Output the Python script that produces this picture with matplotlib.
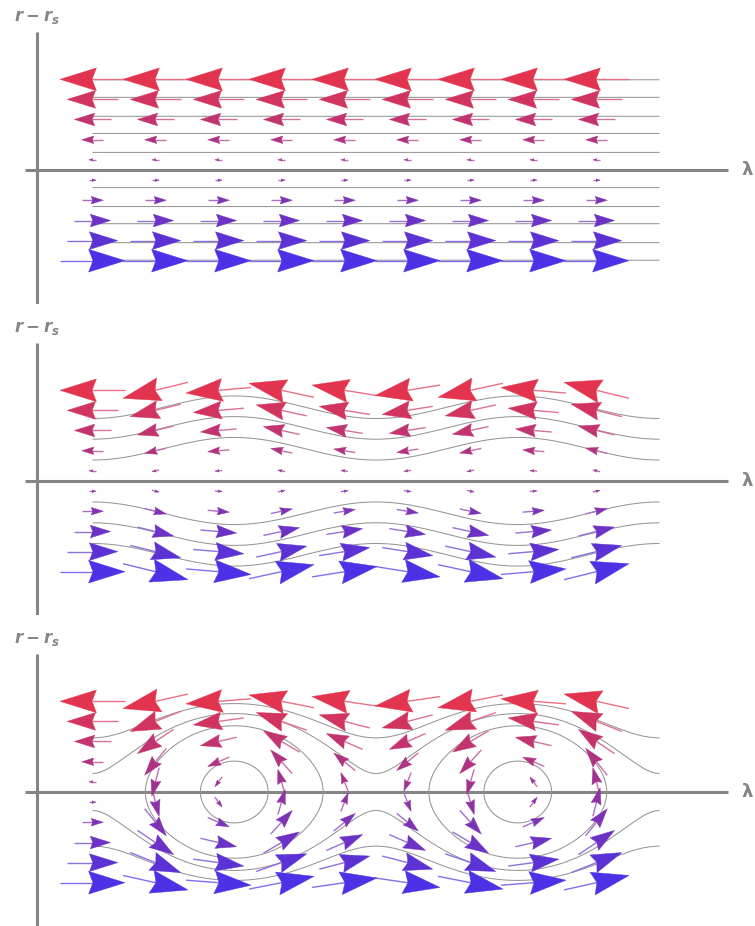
import numpy as np
import matplotlib
matplotlib.use("Agg")
import matplotlib.pyplot as plt
from matplotlib.collections import PolyCollection, LineCollection
from matplotlib.colors import LinearSegmentedColormap, Normalize

plt.rcParams['mathtext.fontset'] = 'custom'
plt.rcParams['mathtext.it'] = 'DejaVu Sans:italic:bold'
plt.rcParams['mathtext.rm'] = 'DejaVu Sans:bold'

# grid of arrows (lambda in rad, r - r_s)
lam_cols = [0.0, 1.396, 2.793, 4.189, 5.585, 6.981, 8.378, 9.774, 11.170]
r_rows = [2.01, 1.565, 1.12, 0.67, 0.225, -0.225, -0.67, -1.12, -1.565, -2.01]

# field parameters
eps_wave = 0.25     # panel 2: tilt of the shear flow
beta_eye = 0.9      # panel 3: strength of the cat's eye
r_eye = 2.86        # panel 3: radial decay of the perturbation

# streamline seed points (lambda, r) for each panel
seeds_flat = [(0.0, 0.39), (0.0, 0.81), (0.0, 1.19), (0.0, 1.61), (0.0, 2.0)]
seeds_wave = [(0.0, 0.465), (0.0, 0.927), (0.0, 1.385)]
seeds_eye = [(np.pi + 0.75, 0.0), (np.pi + 1.97, 0.0), (0.0, 0.41), (0.0, 1.20)]

panels = ["flat", "wave", "eye"]
panel_seeds = [seeds_flat, seeds_wave, seeds_eye]
axis_px = [170, 481, 792]

W, H = 755, 926
S = 45.12          # px per data unit
x0_px = 92.5       # px position of lambda = 0
above, below = 170, 134
arrow_scale = 0.716
gray = "#858585"

cmap = LinearSegmentedColormap.from_list("br", ["#4B32E6", "#E3344F"])
norm = Normalize(vmin=-2.01, vmax=2.01)


def field(kind, lam, r):
    u = -r
    if kind == "flat":
        v = 0.0 * r
    elif kind == "wave":
        v = -eps_wave * np.abs(r) * np.sin(lam)
    else:
        v = -beta_eye * np.sin(lam) * (1 - (r / r_eye) ** 2)
    return u, v


def stream(kind, lam, r):
    if kind == "flat":
        return np.abs(r) + 0.0 * lam
    if kind == "wave":
        return np.abs(r) + eps_wave * np.cos(lam)
    return -(r_eye ** 2 / 2) * np.log(1 - (r / r_eye) ** 2) + beta_eye * np.cos(lam)


fig = plt.figure(figsize=(W / 100, H / 100), dpi=100)

for kind, seeds, ay in zip(panels, panel_seeds, axis_px):
    ax = fig.add_axes([0, 1 - (ay + below) / H, 1, (above + below) / H])
    ax.set_xlim(-x0_px / S, (W - x0_px) / S)
    ax.set_ylim(-below / S, above / S)
    ax.axis("off")

    # axes lines
    ax.plot([-1.23, -1.23], [-3.03, 3.05], color=gray, lw=2.2, zorder=1,
            solid_capstyle="butt")
    ax.plot([-1.50, 14.09], [0, 0], color=gray, lw=2.2, zorder=1,
            solid_capstyle="butt")
    ax.text(-1.23, 149 / S, r"$r - r_s$", ha="center", va="baseline",
            fontsize=12, color=gray)
    ax.text(14.51, 0, "λ", ha="center", va="center", fontsize=13,
            fontweight="bold", color=gray)

    # streamlines
    lam_g = np.linspace(0, 4 * np.pi, 700)
    r_g = np.linspace(-2.6, 2.6, 600)
    LG, RG = np.meshgrid(lam_g, r_g)
    levels = sorted(set(round(float(stream(kind, l, r)), 6) for l, r in seeds))
    ax.contour(LG, RG, stream(kind, LG, RG), levels=levels, colors="#969696",
               linewidths=0.75, linestyles="solid", zorder=2)

    # arrows
    heads, shafts, cols, scols = [], [], [], []
    for lam in lam_cols:
        for r in r_rows:
            u, v = field(kind, lam, r)
            sp = np.hypot(u, v)
            L = arrow_scale * sp
            d = np.array([u, v]) / sp
            n = np.array([-d[1], d[0]])
            c = np.array([lam, r])
            tip = c + d * L / 2
            tail = c - d * L / 2
            h, w = 0.56 * L, 0.175 * L
            base = tip - d * h
            notch = tip - d * h * 0.88
            heads.append([tip, base + n * w, notch, base - n * w])
            shafts.append([tail, notch])
            col = np.array(cmap(norm(r)))
            cols.append(col)
            scols.append(0.7 * col + 0.3 * np.array([1, 1, 1, 1]))
    ax.add_collection(LineCollection(shafts, colors=scols, linewidths=1.0,
                                     zorder=3))
    ax.add_collection(PolyCollection(heads, facecolors=cols, edgecolors=cols,
                                     linewidths=0.3, zorder=4))

fig.savefig("out.png", dpi=100)
